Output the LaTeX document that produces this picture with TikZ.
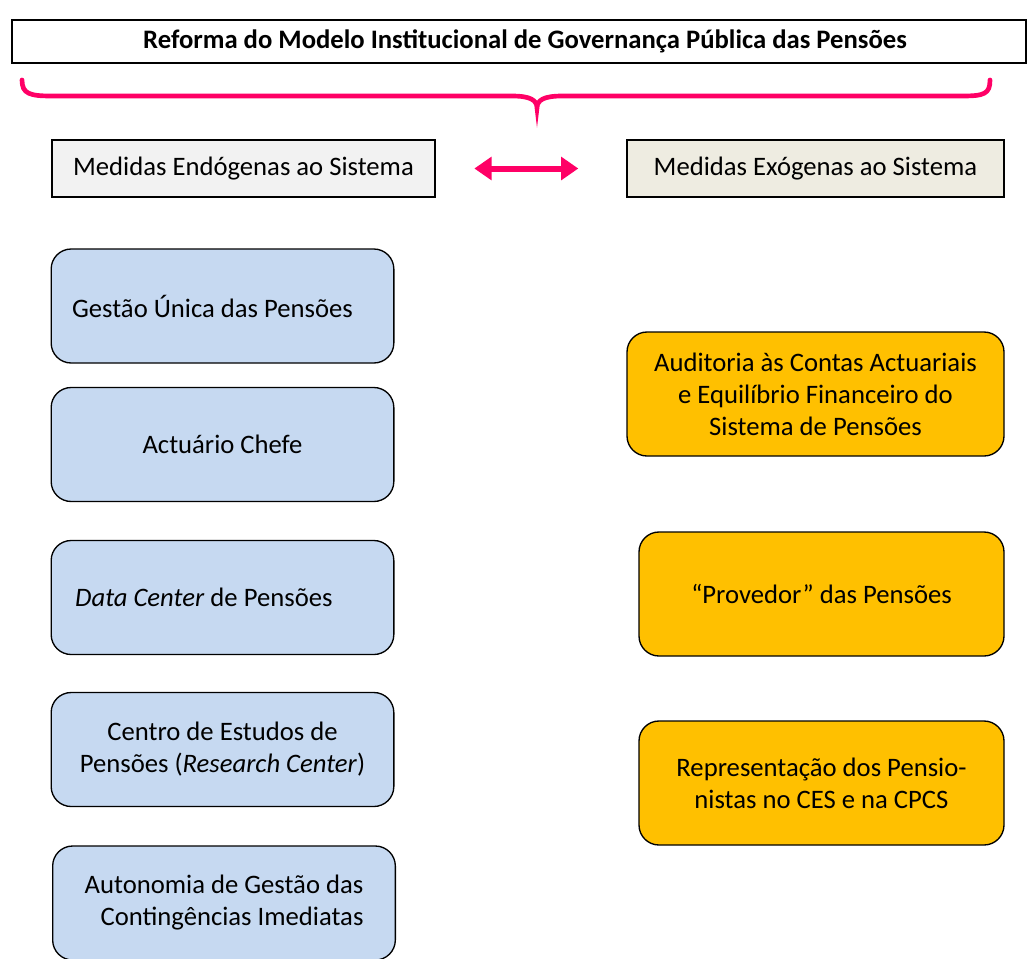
\documentclass[tikz,border=0pt]{standalone}
\usepackage{fontspec}
\setmainfont{Carlito}
\usepackage{tikz}
\usetikzlibrary{arrows.meta}

\definecolor{pink}{HTML}{FF0066}
\definecolor{endoblue}{HTML}{C6D9F1}
\definecolor{exoorange}{HTML}{FFC000}
\definecolor{endogray}{HTML}{F2F2F2}
\definecolor{exobeige}{HTML}{EEECE1}

\begin{document}
\begin{tikzpicture}[x=0.75pt,y=-0.75pt,
  font=\fontsize{20}{24}\selectfont,
  endobox/.style={rectangle,draw,rounded corners=15pt,line width=1pt,fill=endoblue,
    minimum width=257pt,minimum height=85.5pt,align=center},
  exobox/.style={rectangle,draw,rounded corners=15pt,line width=1pt,fill=exoorange,
    minimum width=#1,minimum height=93pt,align=center}]
\clip (0,0) rectangle (1028,958);
\useasboundingbox (0,0) rectangle (1028,958);

\node [rectangle,draw,line width=1pt,minimum width=760.5pt,minimum height=32.25pt] (titulo) at (519,41.5)
  {\bfseries\hspace*{9pt}Reforma do Modelo Institucional de Governança Pública das Pensões};

% chaveta
\draw [pink,line width=3.5pt,line cap=round]
  (22,80) .. controls (22,94) and (30,96) .. (52,96) -- (512,96)
  .. controls (530,96) and (537,100) .. (537,108)
  .. controls (537,100) and (544,96) .. (562,96) -- (962,96)
  .. controls (984,96) and (990,94) .. (990,80);

\node [rectangle,draw,line width=1pt,fill=endogray,minimum width=287.25pt,minimum height=42.75pt] (endo) at (243.5,168.5)
  {Medidas Endógenas ao Sistema};
\node [rectangle,draw,line width=1pt,fill=exobeige,minimum width=282.75pt,minimum height=42.75pt] (exo) at (815.5,168.5)
  {Medidas Exógenas ao Sistema};
\draw [pink,line width=4.5pt,{Triangle[length=13pt,width=17pt]}-{Triangle[length=13pt,width=17pt]},
  shorten <=29pt,shorten >=36pt] (endo.east) -- (exo.west);

\node [endobox] (gestao) at (222.5,306) {Gestão Única das Pensões\hspace*{15pt}};
\node [endobox] (actuario) at (222.5,444.5) {Actuário Chefe};
\node [endobox] (datacenter) at (222.5,597.5) {\textit{Data Center} de Pensões\hspace*{28pt}};
\node [endobox] (estudos) at (222.5,749.5) {Centro de Estudos de\\Pensões (\textit{Research Center})};
\node [endobox] (autonomia) at (224,903) {Autonomia de Gestão das\\\hspace*{12pt}Contingências Imediatas};

\node [exobox=282.75pt] (auditoria) at (815.5,394)
  {Auditoria às Contas Actuariais\\e Equilíbrio Financeiro do\\Sistema de Pensões};
\node [exobox=273.75pt] (provedor) at (821.5,594) {“Provedor” das Pensões};
\node [exobox=273.75pt] (pensionistas) at (821.5,783)
  {Representação dos Pensio-\\nistas no CES e na CPCS};
\end{tikzpicture}
\end{document}
